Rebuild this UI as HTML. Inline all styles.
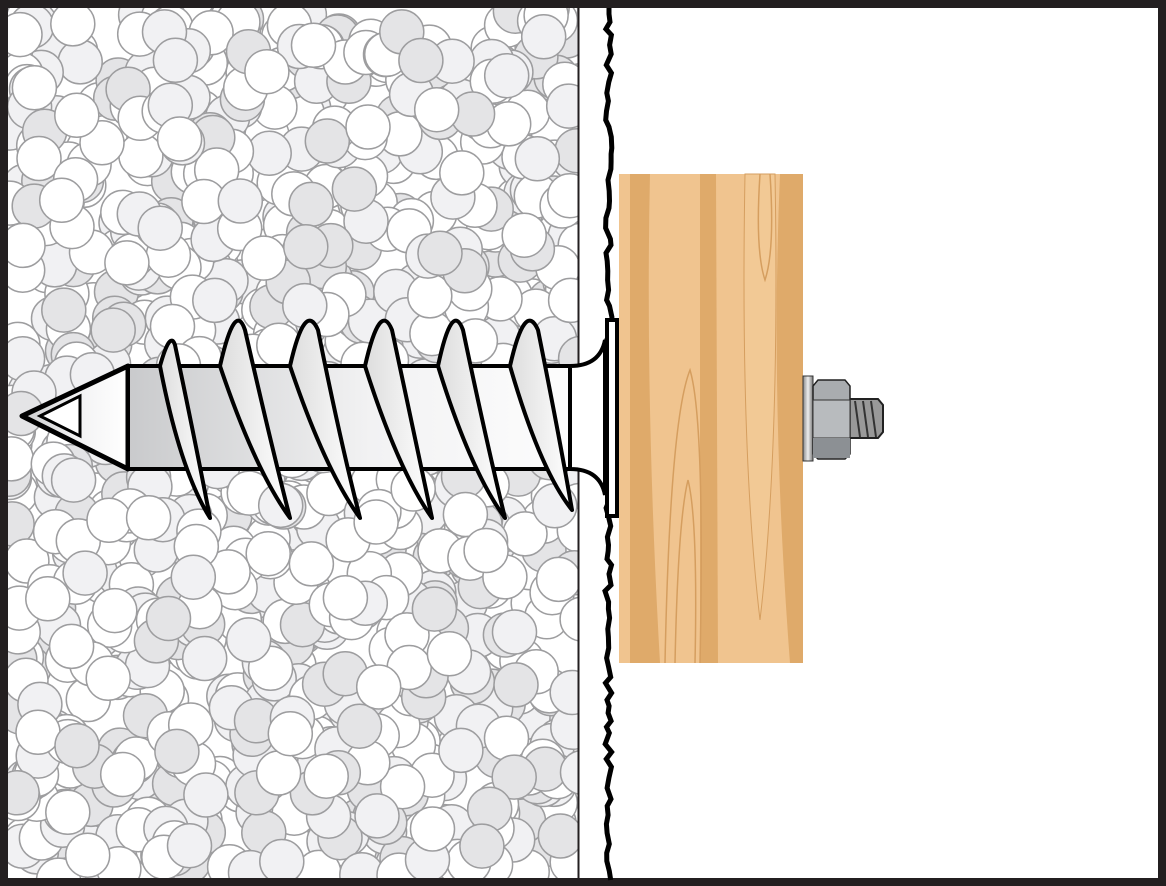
<!DOCTYPE html>
<html><head><style>html,body{margin:0;padding:0;background:#fff}svg{display:block}</style></head>
<body>
<svg id="s" width="1166" height="886" viewBox="0 0 1166 886" xmlns="http://www.w3.org/2000/svg">
<defs>
<clipPath id="cl"><rect x="8" y="8" width="570" height="870"/></clipPath>
<linearGradient id="sh" x1="0" x2="1" y1="0" y2="0">
<stop offset="0" stop-color="#c9cacc"/><stop offset="0.5" stop-color="#f2f2f3"/><stop offset="1" stop-color="#fff"/></linearGradient>
<linearGradient id="th" x1="0" x2="1"><stop offset="0" stop-color="#ddd"/><stop offset="1" stop-color="#fff"/></linearGradient>
<linearGradient id="wa" x1="0" x2="1"><stop offset="0" stop-color="#888"/><stop offset="0.5" stop-color="#eee"/><stop offset="1" stop-color="#777"/></linearGradient>
</defs>
<rect x="0" y="0" width="1166" height="886" fill="#231f20"/>
<rect x="8" y="8" width="1150" height="870" fill="#fff"/>
<g id="circ" clip-path="url(#cl)"></g>
<line x1="578.5" y1="8" x2="578.5" y2="878" stroke="#231f20" stroke-width="2"/>
<path id="jag" d="" fill="none" stroke="#000" stroke-width="5"/>
<!-- wood -->
<rect x="619" y="174" width="184" height="489" fill="#f0c48f"/>
<path d="M630 174 L630 663 L660 663 Q645 400 650 174Z" fill="#dfaa6a"/>
<path d="M700 174 L700 663 L718 663 L716 174Z" fill="#dfaa6a"/>
<path d="M780 174 L803 174 L803 663 L790 663 Q770 400 780 174Z" fill="#dfaa6a"/>
<path d="M745 174 Q740 450 760 620 Q780 450 775 174Z" fill="#f2c995" stroke="#d59e5f"/>
<path d="M665 663 Q670 420 690 370 Q705 420 700 663" fill="none" stroke="#d59e5f" stroke-width="1.5"/>
<path d="M675 663 Q678 520 688 480 Q698 520 695 663" fill="none" stroke="#d59e5f" stroke-width="1.5"/>
<path d="M760 174 Q755 250 765 280 Q775 250 770 174" fill="none" stroke="#d59e5f" stroke-width="1.5"/>
<!-- bolt -->
<rect x="803" y="376" width="10" height="85" fill="url(#wa)" stroke="#333"/>
<path d="M848 399 L878 399 L883 405 L883 432 L878 438 L848 438Z" fill="#999" stroke="#222" stroke-width="2"/>
<path d="M855 401 L860 437 M863 401 L868 437 M871 401 L876 437" stroke="#333" stroke-width="2"/>
<path d="M818 380 L845 380 L850 386 L850 454 L845 459 L818 459 L813 454 L813 386Z" fill="#a9acaf" stroke="#222" stroke-width="1.5"/>
<rect x="813" y="400" width="37" height="38" fill="#b8bbbe" stroke="#333"/>
<rect x="813" y="438" width="37" height="20" fill="#8c9094"/>
<!-- screw -->
<path d="M22 416 L128 366 L128 469Z" fill="url(#sh)" stroke="#000" stroke-width="5" stroke-linejoin="round"/>
<path d="M40 416 L80 396 L80 436Z" fill="#fff" stroke="#000" stroke-width="3"/>
<rect x="128" y="366" width="485" height="103" fill="url(#sh)" stroke="#000" stroke-width="4"/>
<g fill="url(#th)" stroke="#000" stroke-width="4" stroke-linejoin="round">
<path d="M160 366 Q170 330 175 345 Q195 440 210 518 Q180 470 160 366Z"/>
<path d="M220 366 Q235 300 245 330 Q270 440 290 518 Q255 470 220 366Z"/>
<path d="M290 366 Q305 300 318 330 Q340 440 360 518 Q325 470 290 366Z"/>
<path d="M365 366 Q380 300 392 330 Q415 440 432 518 Q398 470 365 366Z"/>
<path d="M438 366 Q452 300 463 330 Q486 440 505 518 Q470 470 438 366Z"/>
<path d="M510 366 Q525 300 538 330 Q560 440 572 510 Q540 470 510 366Z"/>
</g>
<path d="M570 366 Q600 366 605 340 L605 495 Q600 469 570 469Z" fill="#fff" stroke="#000" stroke-width="4"/>
<rect x="607" y="320" width="10" height="196" fill="#fff" stroke="#000" stroke-width="4"/>
</svg>
<script>
(function(){var g=document.getElementById('circ'),s=12345;function r(){s=(s*16807)%2147483647;return s/2147483647;}
var f=['#ffffff','#f1f1f3','#e4e4e6','#ffffff'],h='';
for(var i=0;i<1100;i++){var x=8+r()*575,y=8+r()*875;h+='<circle cx="'+x.toFixed(1)+'" cy="'+y.toFixed(1)+'" r="22" fill="'+f[Math.floor(r()*4)]+'" stroke="#9d9d9f" stroke-width="1.5"/>';}
g.innerHTML=h;
var d='M609 8';for(var y=14;y<=880;y+=6+Math.floor(r()*6)){d+=' L'+(605+r()*7).toFixed(1)+' '+y;}
document.getElementById('jag').setAttribute('d',d);})();
</script>
</body></html>
